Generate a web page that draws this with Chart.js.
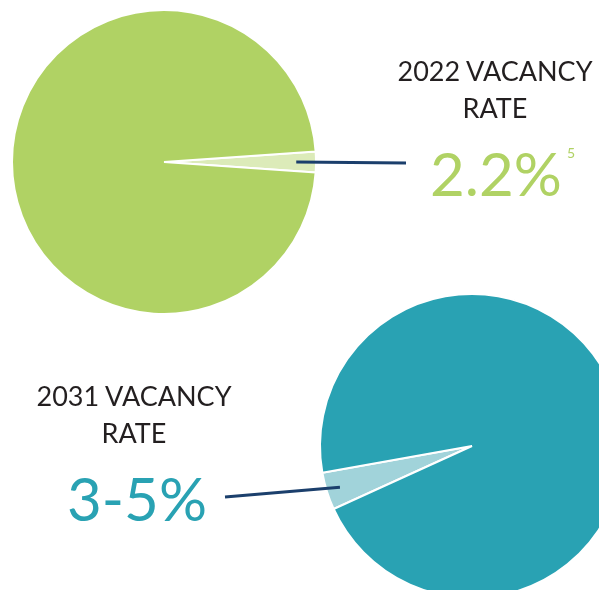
<!DOCTYPE html>
<html>
<head>
<meta charset="utf-8">
<script src="https://cdn.jsdelivr.net/npm/chart.js@4/dist/chart.umd.min.js"></script>
<style>
  html, body { margin: 0; padding: 0; width: 599px; height: 590px; overflow: hidden; background: #fff; }
  canvas { position: absolute; left: 0; top: 0; }
  .title { position: absolute; width: 260px; text-align: center; font-family: Lato, sans-serif; font-size: 27px; line-height: 37px; color: #231f20; }
  .rate { position: absolute; width: 260px; text-align: center; font-family: Lato, sans-serif; font-size: 60px; line-height: 60px; }
  .rate sup { font-size: 14px; position: absolute; top: -20px; margin-left: 5px; }
</style>
</head>
<body>
<canvas id="pie2031" width="640" height="610"></canvas>
<canvas id="pie2022" width="599" height="590"></canvas>

<div class="title" id="title2022" style="left:365px; top:52px;"></div>
<div class="rate" id="rate2022" style="left:366px; top:143px; color:#b0d264;"></div>
<div class="title" id="title2031" style="left:4px; top:377px;"></div>
<div class="rate" id="rate2031" style="left:7px; top:468px; color:#29a2b3;"></div>

<script>
// chart values
var sliceLabels = ['Vacant', 'Occupied'];
var vacancy2022 = [2.2, 97.8];
var vacancy2031 = [4, 96];
var titles = ['2022 VACANCY<br>RATE', '2031 VACANCY<br>RATE'];
var rates = ['2.2%', '3-5%'];
var footnote = '5';

document.getElementById('title2022').innerHTML = titles[0];
document.getElementById('title2031').innerHTML = titles[1];
document.getElementById('rate2022').innerHTML = rates[0] + '<sup>' + footnote + '</sup>';
document.getElementById('rate2031').innerHTML = rates[1];

// leader line from the small slice out to the label
var leaderLine = {
  id: 'leaderLine',
  afterDraw: function(chart, args, opts) {
    var arc = chart.getDatasetMeta(0).data[0];
    var p = arc.getProps(['x', 'y', 'startAngle', 'endAngle', 'outerRadius'], true);
    var mid = (p.startAngle + p.endAngle) / 2;
    var r = p.outerRadius * opts.depth;
    var ctx = chart.ctx;
    ctx.save();
    ctx.strokeStyle = '#1b3f6c';
    ctx.lineWidth = 3;
    ctx.beginPath();
    ctx.moveTo(p.x + Math.cos(mid) * r, p.y + Math.sin(mid) * r);
    ctx.lineTo(opts.toX, opts.toY);
    ctx.stroke();
    ctx.restore();
  }
};

function showPie(id, values, colors, rotation, padding, leader) {
  return new Chart(document.getElementById(id), {
    type: 'pie',
    data: {
      labels: sliceLabels,
      datasets: [{
        data: values,
        backgroundColor: colors,
        borderColor: '#ffffff',
        borderWidth: 2
      }]
    },
    options: {
      responsive: false,
      animation: false,
      rotation: rotation,
      layout: { padding: padding },
      plugins: {
        legend: { display: false },
        tooltip: { enabled: false },
        leaderLine: leader
      }
    },
    plugins: [leaderLine]
  });
}

showPie('pie2022', vacancy2022, ['#dcebb9', '#b0d264'], 86,
  { left: 11, top: 9, right: 282, bottom: 275 },
  { depth: 0.87, toX: 406, toY: 163 });

showPie('pie2031', vacancy2031, ['#a1d3da', '#29a2b3'], 245.5,
  { left: 319, top: 293, right: 15, bottom: 11 },
  { depth: 0.91, toX: 225, toY: 497 });
</script>
</body>
</html>
